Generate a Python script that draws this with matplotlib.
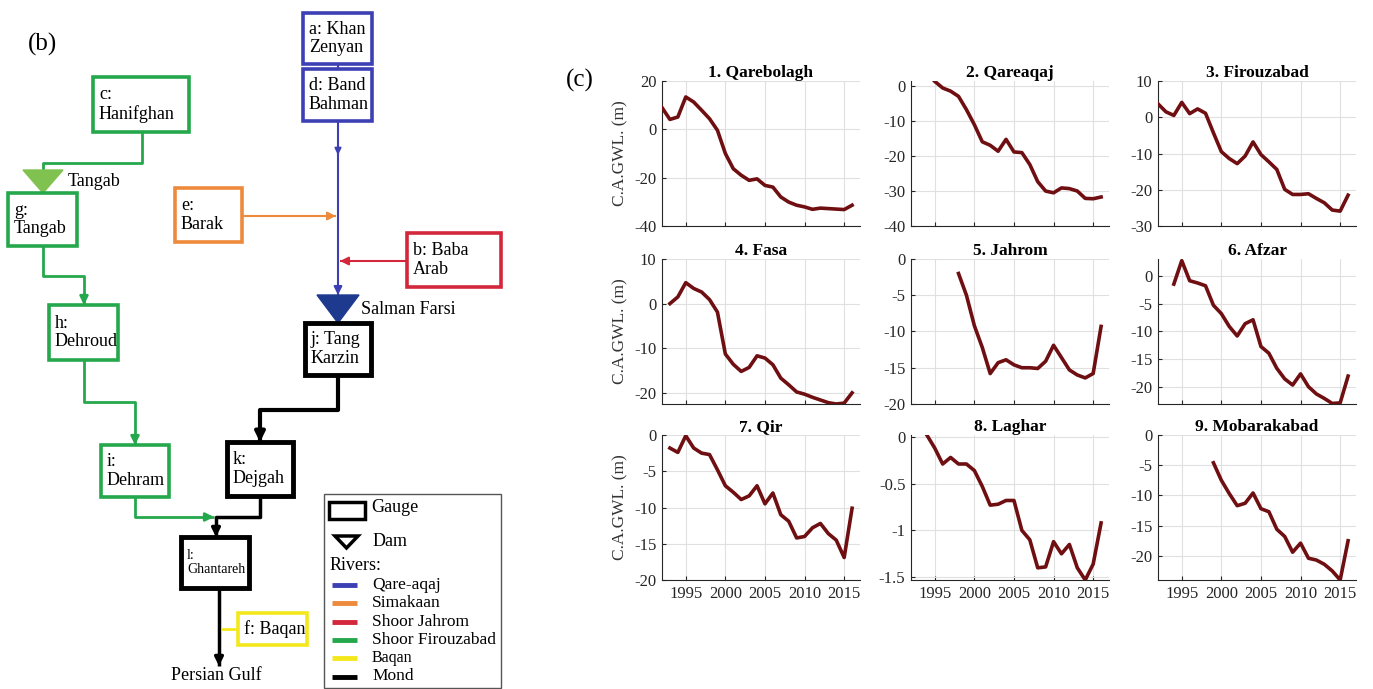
import numpy as np
import matplotlib.pyplot as plt
from matplotlib.patches import Rectangle, Polygon
from matplotlib.ticker import FuncFormatter

plt.rcParams['font.family'] = ['Liberation Serif', 'DejaVu Serif']
plt.rcParams['axes.unicode_minus'] = False

# ---- panel (c): change in average groundwater level (m) ----
wells = ['1. Qarebolagh', '2. Qareaqaj', '3. Firouzabad', '4. Fasa', '5. Jahrom',
         '6. Afzar', '7. Qir', '8. Laghar', '9. Mobarakabad']
start_year = [1992, 1995, 1992, 1993, 1998, 1994, 1993, 1994, 1999]

qarebolagh = [9.0, 4.1, 5.1, 13.4, 11.3, 7.9, 4.4, -0.4, -10.0, -16.3, -19.0, -21.1, -20.5,
              -23.2, -23.9, -28.0, -30.1, -31.4, -32.1, -33.1, -32.6, -32.8, -33.0, -33.2, -31.4]
qareaqaj = [1.4, -0.5, -1.4, -2.9, -6.7, -11.0, -15.9, -16.9, -18.6, -15.2, -18.8, -19.0,
            -22.4, -27.3, -30.0, -30.5, -29.1, -29.3, -30.0, -32.1, -32.2, -31.7]
firouzabad = [3.7, 1.5, 0.5, 4.1, 1.0, 2.3, 1.1, -4.3, -9.5, -11.4, -12.8, -10.7, -6.8,
              -10.3, -12.3, -14.4, -19.9, -21.3, -21.3, -21.1, -22.4, -23.6, -25.6, -25.9, -21.5]
fasa = [0.0, 1.5, 4.7, 3.4, 2.6, 0.9, -1.9, -11.3, -13.6, -15.2, -14.3, -11.7, -12.2,
        -13.7, -16.7, -18.2, -19.8, -20.3, -21.0, -21.6, -22.2, -22.5, -22.3, -20.0]
jahrom = [-2.0, -5.0, -9.2, -12.2, -15.8, -14.3, -13.9, -14.6, -15.0, -15.0, -15.1, -14.1,
          -11.9, -13.6, -15.3, -16.0, -16.4, -15.8, -9.3]
afzar = [-1.5, 2.7, -0.9, -1.3, -1.8, -5.3, -6.8, -9.1, -10.8, -8.6, -7.9, -12.7, -13.9,
         -16.6, -18.5, -19.6, -17.6, -19.9, -21.2, -22.0, -22.9, -22.8, -18.0]
qir = [-1.8, -2.4, -0.1, -1.8, -2.5, -2.7, -4.8, -7.0, -7.9, -8.9, -8.4, -7.0, -9.5, -8.0,
       -11.0, -11.9, -14.2, -14.0, -12.8, -12.2, -13.6, -14.5, -16.9, -10.1]
laghar = [0.02, -0.12, -0.29, -0.22, -0.29, -0.29, -0.36, -0.53, -0.73, -0.72, -0.68, -0.68,
          -1.0, -1.1, -1.4, -1.39, -1.12, -1.25, -1.15, -1.4, -1.53, -1.36, -0.92]
mobarakabad = [-4.6, -7.5, -9.7, -11.7, -11.3, -9.6, -12.2, -12.7, -15.6, -16.8, -19.4,
               -17.9, -20.4, -20.7, -21.4, -22.5, -24.0, -17.5]
series = [qarebolagh, qareaqaj, firouzabad, fasa, jahrom, afzar, qir, laghar, mobarakabad]

ylims = [(-40, 20), (-40, 1.5), (-30, 10), (-22.5, 10), (-20, 0), (-23, 3),
         (-20, 0), (-1.53, 0.02), (-24, 0)]
yticks = [[-40, -20, 0, 20], [-40, -30, -20, -10, 0], [-30, -20, -10, 0, 10],
          [-20, -10, 0, 10], [-20, -15, -10, -5, 0], [-20, -15, -10, -5, 0],
          [-20, -15, -10, -5, 0], [-1.5, -1, -0.5, 0], [-20, -15, -10, -5, 0]]
xticks = [1995, 2000, 2005, 2010, 2015]

# ---- panel (b): river network schematic ----
node_ids = ['a', 'd', 'c', 'g', 'e', 'b', 'j', 'h', 'i', 'k', 'l', 'f']
node_text = ['a: Khan\nZenyan', 'd: Band\nBahman', 'c:\nHanifghan', 'g:\nTangab', 'e:\nBarak',
             'b: Baba\nArab', 'j: Tang\nKarzin', 'h:\nDehroud', 'i:\nDehram', 'k:\nDejgah',
             'l:\nGhantareh', 'f: Baqan']
node_river = ['Qare-aqaj', 'Qare-aqaj', 'Shoor Firouzabad', 'Shoor Firouzabad', 'Simakaan',
              'Shoor Jahrom', 'Mond', 'Shoor Firouzabad', 'Shoor Firouzabad', 'Mond', 'Mond', 'Baqan']
rivers = ['Qare-aqaj', 'Simakaan', 'Shoor Jahrom', 'Shoor Firouzabad', 'Baqan', 'Mond']
river_colors = ['#3d40b4', '#ee8a3c', '#d3283b', '#25a84c', '#f4e81c', '#000000']
dams = ['Tangab', 'Salman Farsi']

col = dict(zip(rivers, river_colors))

W, H = 1373, 689
fig = plt.figure(figsize=(W / 100, H / 100), dpi=100)

# layout of schematic (pixel space of the left panel)
box_xy = {'a': (303, 13, 372, 64), 'd': (303, 69, 372, 121), 'c': (93, 77, 189, 132),
          'g': (8, 193, 77, 246), 'e': (175, 188, 242, 242), 'b': (407, 233, 501, 287),
          'j': (305, 323, 371, 375), 'h': (49, 305, 118, 360), 'i': (101, 445, 169, 497),
          'k': (227, 442, 293, 496), 'l': (181, 537, 249, 588), 'f': (238, 613, 307, 645)}

axd = fig.add_axes([0, 0, 560 / W, 1])
axd.set_xlim(0, 560)
axd.set_ylim(H, 0)
axd.axis('off')


def path(pts, color, lw, arrow=True, ms=12):
    xs, ys = zip(*pts)
    axd.plot(xs, ys, color=color, lw=lw, solid_capstyle='butt', zorder=2)
    if arrow:
        (x0, y0), (x1, y1) = pts[-2], pts[-1]
        d = np.hypot(x1 - x0, y1 - y0)
        sx, sy = x1 - (x1 - x0) / d * 8, y1 - (y1 - y0) / d * 8
        axd.annotate('', xy=(x1, y1), xytext=(sx, sy),
                     arrowprops=dict(arrowstyle='-|>', color=color, lw=lw,
                                     mutation_scale=ms, shrinkA=0, shrinkB=0), zorder=3)


# rivers
path([(338, 64), (338, 69)], col['Qare-aqaj'], 1.5, arrow=False)
path([(338, 121), (338, 155)], col['Qare-aqaj'], 1.5, ms=9)
path([(338, 150), (338, 295)], col['Qare-aqaj'], 1.5)
path([(242, 216), (336, 216)], col['Simakaan'], 1.5)
path([(407, 261), (340, 261)], col['Shoor Jahrom'], 1.5)
path([(142, 132), (142, 163), (43, 163), (43, 171)], col['Shoor Firouzabad'], 2, arrow=False)
path([(43, 246), (43, 276), (84, 276), (84, 305)], col['Shoor Firouzabad'], 2)
path([(84, 360), (84, 402), (135, 402), (135, 445)], col['Shoor Firouzabad'], 2)
path([(135, 497), (135, 517), (214, 517)], col['Shoor Firouzabad'], 2)
path([(338, 375), (338, 410), (260, 410), (260, 442)], col['Mond'], 3, ms=14)
path([(260, 496), (260, 517), (216, 517), (216, 537)], col['Mond'], 2.5, ms=12)
path([(219, 588), (219, 666)], col['Mond'], 2.5, ms=12)
path([(238, 629), (221, 629)], col['Baqan'], 2, arrow=False)

# dams
axd.add_patch(Polygon([(23, 170), (63, 170), (43, 193)], closed=True,
                      facecolor='#80c24f', edgecolor='#80c24f', zorder=4))
axd.add_patch(Polygon([(317, 295), (359, 295), (338, 323)], closed=True,
                      facecolor='#1d3a8f', edgecolor='#1d3a8f', zorder=4))
axd.text(68, 182, dams[0], fontsize=13, va='center', ha='left')
axd.text(361, 309, dams[1], fontsize=13, va='center', ha='left')

# gauges
for nid, txt, riv in zip(node_ids, node_text, node_river):
    x0, y0, x1, y1 = box_xy[nid]
    lw = 3.5 if riv == 'Mond' else 2.6
    axd.add_patch(Rectangle((x0, y0), x1 - x0, y1 - y0, facecolor='white',
                            edgecolor=col[riv], lw=lw, zorder=5))
    fs = 10 if nid == 'l' else 13
    axd.text(x0 + 6, (y0 + y1) / 2, txt, fontsize=fs, va='center', ha='left',
             linespacing=1.1, zorder=6)

axd.text(216, 675, 'Persian Gulf', fontsize=13, ha='center', va='center')
axd.text(28, 44, '(b)', fontsize=18, ha='left', va='center')

# legend of schematic
axd.add_patch(Rectangle((324, 494), 177, 194, facecolor='white', edgecolor='#555555', lw=1))
axd.add_patch(Rectangle((329, 502), 36, 17, facecolor='white', edgecolor='black', lw=2.5))
axd.text(371, 508, 'Gauge', fontsize=13, va='center')
axd.add_patch(Polygon([(335, 536), (358, 536), (346.5, 548)], closed=True,
                      facecolor='white', edgecolor='black', lw=2.5))
axd.text(373, 541, 'Dam', fontsize=13, va='center')
axd.text(330, 566, 'Rivers:', fontsize=13, va='center')
for k, (rname, rc) in enumerate(zip(rivers, river_colors)):
    yy = 585 + k * 18.3
    axd.plot([332, 357], [yy, yy], color=rc, lw=3.5, solid_capstyle='butt')
    axd.text(372, yy, rname, fontsize=12.5 if rname != 'Baqan' else 11.5, va='center')

# ---- panel (c) subplots ----
lefts = [662, 911, 1158]
tops = [81, 259, 435]
aw, ah = 198, 145
fmt = FuncFormatter(lambda v, p: '%g' % v)

for n in range(9):
    r, c = divmod(n, 3)
    ax = fig.add_axes([lefts[c] / W, 1 - (tops[r] + ah) / H, aw / W, ah / H])
    yrs = np.arange(start_year[n], start_year[n] + len(series[n]))
    ax.plot(yrs, series[n], color='#6f0f12', lw=2.6, solid_joinstyle='round', zorder=3)
    ax.set_xlim(1992, 2017)
    ax.set_ylim(*ylims[n])
    ax.set_xticks(xticks)
    ax.set_yticks(yticks[n])
    ax.yaxis.set_major_formatter(fmt)
    if r < 2:
        ax.set_xticklabels([])
    ax.grid(True, color='#e0e0e0', lw=0.8)
    ax.set_axisbelow(True)
    for s in ['top', 'right']:
        ax.spines[s].set_visible(False)
    for s in ['left', 'bottom']:
        ax.spines[s].set_color('#262626')
    ax.tick_params(direction='in', length=3, labelsize=12, colors='#262626', pad=4)
    ax.set_title(wells[n], fontsize=12.5, fontweight='bold', pad=3)
    if c == 0:
        ax.set_ylabel('C.A.GWL. (m)', fontsize=12.5, color='#333333', labelpad=4)

fig.text(566 / W, 1 - 80 / H, '(c)', fontsize=18, ha='left', va='center')

fig.savefig('out.png', dpi=100)
